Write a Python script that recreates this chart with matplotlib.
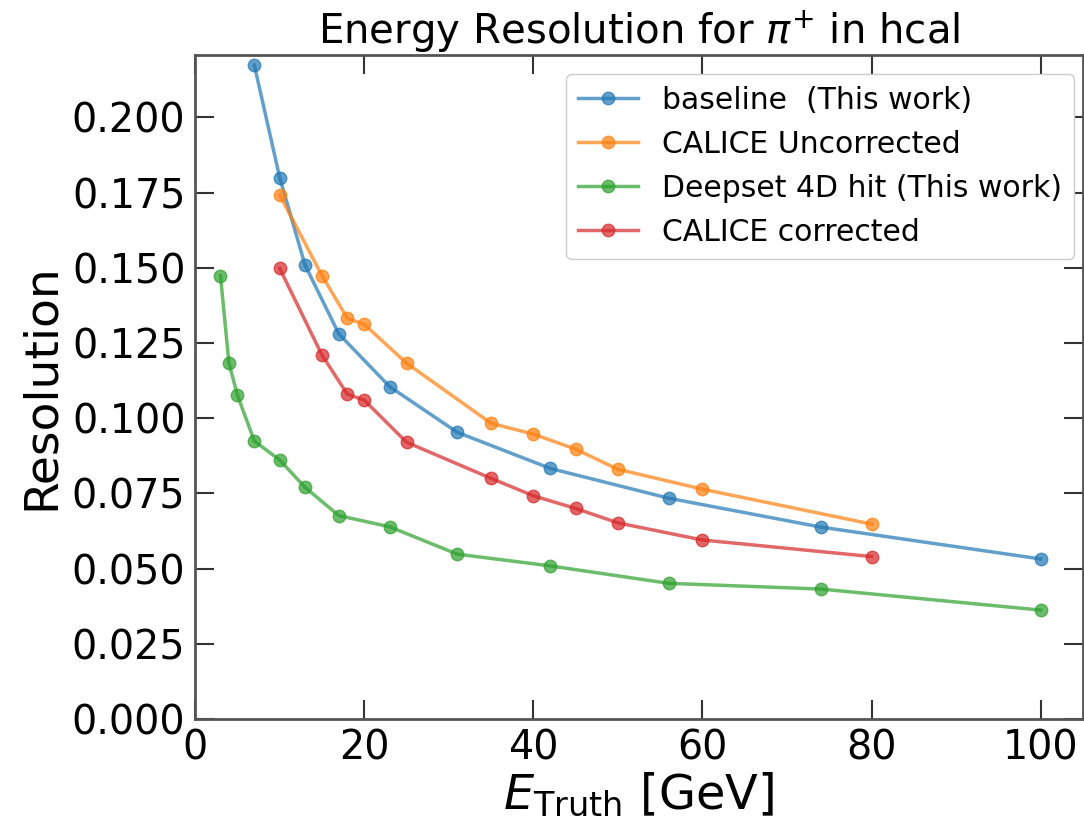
import matplotlib
matplotlib.use("Agg")
import matplotlib.pyplot as plt

# energies [GeV]
e_baseline = [7, 10, 13, 17, 23, 31, 42, 56, 74, 100]
e_calice   = [10, 15, 18, 20, 25, 35, 40, 45, 50, 60, 80]
e_deepset  = [3, 4, 5, 7, 10, 13, 17, 23, 31, 42, 56, 74, 100]

res_baseline  = [0.2174, 0.1800, 0.1509, 0.1280, 0.1105, 0.0953, 0.0833, 0.0734, 0.0638, 0.0532]
res_uncorr    = [0.1742, 0.1474, 0.1332, 0.1312, 0.1183, 0.0983, 0.0947, 0.0897, 0.0830, 0.0764, 0.0648]
res_deepset   = [0.1473, 0.1183, 0.1077, 0.0924, 0.0861, 0.0770, 0.0676, 0.0639, 0.0548, 0.0509, 0.0451, 0.0432, 0.0362]
res_corrected = [0.1498, 0.1210, 0.1080, 0.1060, 0.0920, 0.0800, 0.0742, 0.0700, 0.0652, 0.0595, 0.0540]

x_ticks = [0, 20, 40, 60, 80, 100]
y_ticks = [0.0, 0.025, 0.05, 0.075, 0.1, 0.125, 0.15, 0.175, 0.2]

fig = plt.figure(figsize=(10.84, 8.22), dpi=100)
ax = fig.add_axes([0.18, 0.1253, 0.819, 0.8077])

kw = dict(marker="o", lw=2.5, ms=9, alpha=0.7)
ax.plot(e_baseline, res_baseline, color="tab:blue", label="baseline  (This work)", **kw)
ax.plot(e_calice, res_uncorr, color="tab:orange", label="CALICE Uncorrected", **kw)
ax.plot(e_deepset, res_deepset, color="tab:green", label="Deepset 4D hit (This work)", **kw)
ax.plot(e_calice, res_corrected, color="tab:red", label="CALICE corrected", **kw)

ax.set_xlim(0, 105)
ax.set_ylim(0, 0.2207)
ax.set_xticks(x_ticks)
ax.set_yticks(y_ticks)
ax.set_yticklabels([f"{v:.3f}" for v in y_ticks])
ax.tick_params(direction="in", length=14, width=1.5, top=True, right=True,
               labelsize=28.5, pad=7, color="#333333")
for spine in ax.spines.values():
    spine.set_edgecolor("#555555")
    spine.set_linewidth(2)

ax.set_xlabel(r"$E_{\mathrm{Truth}}$ [GeV]", fontsize=34.5, labelpad=2)
ax.set_ylabel("Resolution", fontsize=34, labelpad=6)
ax.set_title(r"Energy Resolution for $\pi^{+}$ in hcal", fontsize=29, pad=8)

ax.legend(loc="upper right", fontsize=21.5, bbox_to_anchor=(1.0, 0.985),
          handlelength=2.0, framealpha=1.0, edgecolor="#cccccc",
          borderaxespad=0.3)

plt.savefig("out.png", dpi=100)
